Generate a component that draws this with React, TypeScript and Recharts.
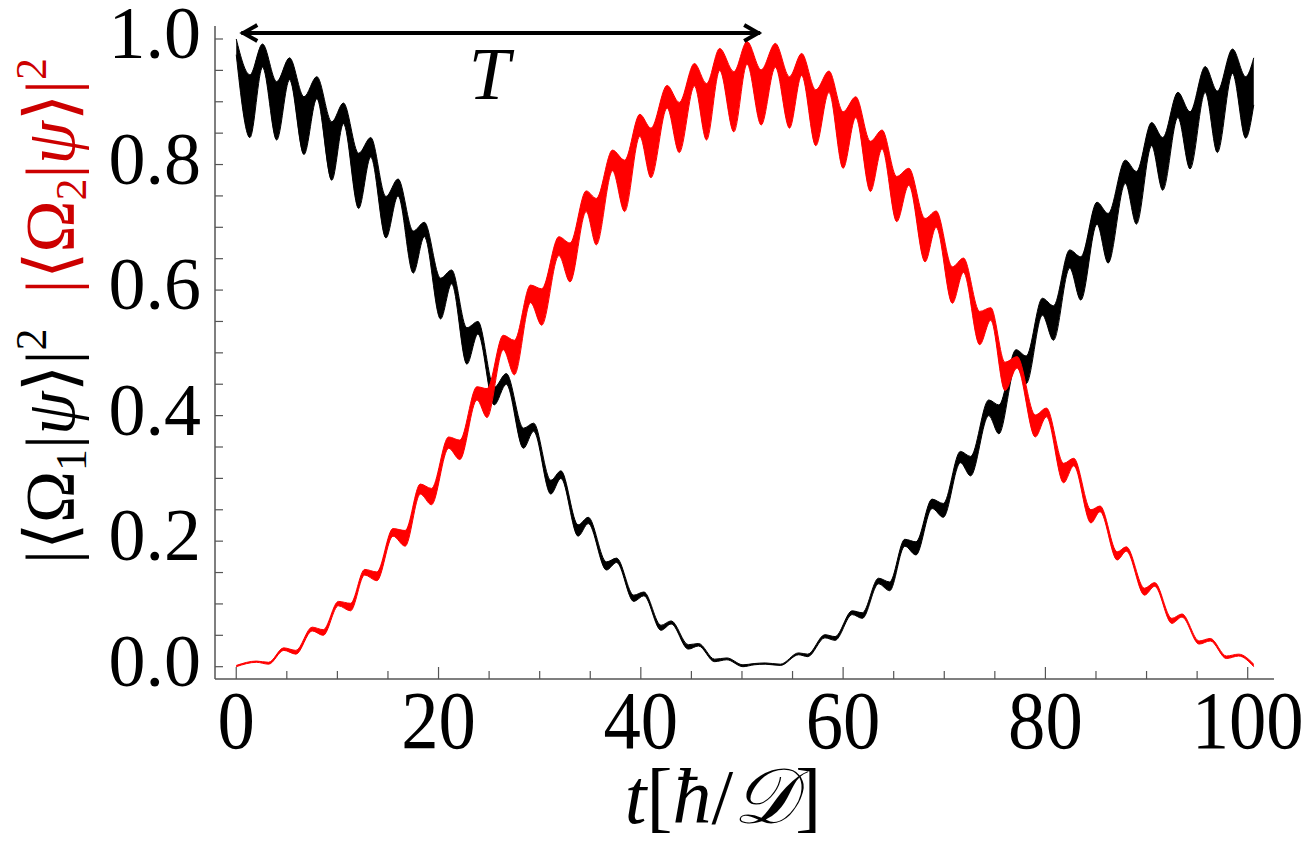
import { ComposedChart, Area, XAxis, YAxis, ReferenceLine } from 'recharts';

// |<Omega_1|psi>|^2 (black band): time, lower and upper edge of the fast oscillation
const blackT = [
  0, 1.35, 2.6, 4.0, 5.27, 6.7, 7.97, 9.45, 10.6, 12.1, 13.3, 14.8, 16.0, 17.5, 18.6, 20.2, 21.3,
  22.8, 23.9, 25.5, 26.7, 28.4, 29.4, 31.1, 32.1, 33.8, 34.8, 36.6, 37.6, 39.3, 40.3, 42.0, 43.0,
  44.7, 45.7, 47.3, 48.5, 50.1, 51.2, 52.3, 53.8, 55.6, 56.5, 58.2, 59.2, 60.9, 61.9, 63.5, 64.6,
  66.1, 67.2, 68.8, 69.9, 71.6, 72.6, 74.4, 75.4, 77.1, 78.1, 79.7, 80.8, 82.4, 83.5, 85.1, 86.2,
  87.9, 89.0, 90.5, 91.6, 93.1, 94.3, 95.8, 97.0, 98.5, 99.8, 100.6,
];
const blackHi = [
  1.0, 0.943, 0.992, 0.932, 0.97, 0.908, 0.94, 0.868, 0.898, 0.818, 0.843, 0.749, 0.777, 0.694, 0.708, 0.619, 0.632,
  0.54, 0.55, 0.445, 0.467, 0.38, 0.388, 0.297, 0.312, 0.226, 0.238, 0.167, 0.173, 0.114, 0.119, 0.066, 0.073,
  0.035, 0.037, 0.012, 0.014, 0.003, 0.005, 0.006, 0.004, 0.022, 0.02, 0.051, 0.048, 0.089, 0.086, 0.141, 0.135,
  0.203, 0.199, 0.267, 0.26, 0.343, 0.335, 0.425, 0.417, 0.505, 0.495, 0.587, 0.575, 0.664, 0.653, 0.74, 0.722,
  0.807, 0.789, 0.867, 0.843, 0.915, 0.884, 0.956, 0.917, 0.984, 0.94, 0.97,
];
const blackLo = [
  0.975, 0.843, 0.955, 0.839, 0.935, 0.816, 0.905, 0.775, 0.865, 0.73, 0.812, 0.683, 0.75, 0.627, 0.685, 0.554, 0.61,
  0.482, 0.53, 0.417, 0.45, 0.348, 0.375, 0.275, 0.3, 0.208, 0.228, 0.154, 0.166, 0.104, 0.113, 0.058, 0.068,
  0.028, 0.033, 0.008, 0.011, 0.0, 0.003, 0.004, 0.002, 0.019, 0.016, 0.046, 0.042, 0.083, 0.077, 0.132, 0.121,
  0.192, 0.178, 0.252, 0.238, 0.325, 0.304, 0.4, 0.371, 0.48, 0.451, 0.56, 0.52, 0.635, 0.584, 0.705, 0.643,
  0.77, 0.705, 0.83, 0.759, 0.875, 0.793, 0.915, 0.819, 0.945, 0.842, 0.895,
];

// |<Omega_2|psi>|^2 (red band)
const redT = [
  0, 2.0, 3.2, 4.7, 5.9, 7.5, 8.6, 10.1, 11.3, 12.7, 13.9, 15.5, 16.7, 18.2, 19.3, 21.0, 22.1,
  23.8, 24.8, 26.4, 27.5, 29.1, 30.2, 31.9, 33.0, 34.6, 35.6, 37.2, 38.4, 39.9, 41.0, 42.6, 43.8,
  45.3, 46.5, 47.8, 49.2, 50.5, 51.9, 53.3, 54.7, 55.9, 57.3, 58.6, 60.0, 61.25, 62.7, 63.85, 65.3,
  66.5, 68.1, 69.2, 70.8, 71.9, 73.5, 74.6, 76.0, 77.2, 79.0, 80.1, 81.8, 82.8, 84.5, 85.4, 87.1,
  88.0, 89.8, 90.8, 92.5, 93.5, 95.2, 96.3, 97.9, 99.1, 100.6,
];
const redHi = [
  0.002, 0.009, 0.007, 0.03, 0.026, 0.063, 0.059, 0.104, 0.101, 0.155, 0.151, 0.22, 0.217, 0.291, 0.284, 0.366, 0.361,
  0.446, 0.443, 0.528, 0.52, 0.608, 0.602, 0.685, 0.675, 0.758, 0.746, 0.823, 0.807, 0.88, 0.858, 0.926, 0.899,
  0.961, 0.929, 0.985, 0.948, 0.996, 0.951, 0.993, 0.94, 0.977, 0.919, 0.949, 0.884, 0.908, 0.837, 0.855, 0.781,
  0.794, 0.714, 0.726, 0.637, 0.651, 0.566, 0.572, 0.485, 0.494, 0.401, 0.412, 0.324, 0.332, 0.25, 0.256, 0.183,
  0.191, 0.125, 0.134, 0.077, 0.084, 0.041, 0.045, 0.017, 0.02, 0.004,
];
const redLo = [
  0.0, 0.007, 0.004, 0.026, 0.02, 0.057, 0.05, 0.097, 0.089, 0.146, 0.137, 0.208, 0.192, 0.275, 0.258, 0.348, 0.33,
  0.425, 0.397, 0.505, 0.465, 0.58, 0.544, 0.655, 0.613, 0.725, 0.672, 0.79, 0.725, 0.845, 0.779, 0.89, 0.819,
  0.925, 0.839, 0.95, 0.852, 0.96, 0.863, 0.955, 0.858, 0.942, 0.83, 0.915, 0.794, 0.875, 0.757, 0.825, 0.709,
  0.767, 0.645, 0.7, 0.579, 0.628, 0.513, 0.552, 0.44, 0.476, 0.366, 0.398, 0.293, 0.32, 0.229, 0.247, 0.17,
  0.184, 0.114, 0.128, 0.069, 0.079, 0.036, 0.041, 0.013, 0.017, 0.0,
];

const xTicks = [0, 5, 10, 15, 20, 25, 30, 35, 40, 45, 50, 55, 60, 65, 70, 75, 80, 85, 90, 95, 100];
const xLabels = [0, 20, 40, 60, 80, 100];
const yTicks = [
  0, 0.05, 0.1, 0.15, 0.2, 0.25, 0.3, 0.35, 0.4, 0.45, 0.5, 0.55, 0.6, 0.65, 0.7, 0.75, 0.8, 0.85, 0.9,
  0.95, 1.0,
];
const yLabels = [0, 0.2, 0.4, 0.6, 0.8, 1.0];

// period arrow: start and end time, height
const arrowT = [0.5, 51.8];
const arrowY = 1.0096;

const blackRows = blackT.map((t, i) => ({ t, band: [blackLo[i], blackHi[i]] }));
const redRows = redT.map((t, i) => ({ t, band: [redLo[i], redHi[i]] }));

const FRAME = '#555';
const RED = '#ff0000';
const LABEL_RED = '#cc0000';
const SERIF = '"Liberation Serif", "Times New Roman", serif';

const isLabel = (list: number[], v: number) => list.some((l) => Math.abs(l - v) < 1e-6);

const BottomTick = (props: any) => {
  const { x, y, payload } = props;
  const major = isLabel(xLabels, payload.value);
  return (
    <g>
      <line x1={x} y1={y} x2={x} y2={y - (major ? 12 : 8)} stroke={FRAME} strokeWidth={1.2} />
      {major && (
        <text
          transform={`translate(${x},${y + 69}) scale(0.9,1)`}
          textAnchor="middle"
          fontFamily={SERIF}
          fontSize={83}
          fill="#000"
        >
          {payload.value}
        </text>
      )}
    </g>
  );
};

const TopTick = (props: any) => {
  const { x, y, payload } = props;
  const major = isLabel(xLabels, payload.value);
  return <line x1={x} y1={y} x2={x} y2={y + (major ? 12 : 8)} stroke={FRAME} strokeWidth={1.2} />;
};

const LeftTick = (props: any) => {
  const { x, y, payload } = props;
  const major = isLabel(yLabels, payload.value);
  return (
    <g>
      <line x1={x} y1={y} x2={x + 8} y2={y} stroke={FRAME} strokeWidth={1.2} />
      {major && (
        <text x={x - 14} y={y + 19} textAnchor="end" fontFamily={SERIF} fontSize={74} fill="#000">
          {payload.value.toFixed(1)}
        </text>
      )}
    </g>
  );
};

const RightTick = (props: any) => {
  const { x, y } = props;
  return <line x1={x} y1={y} x2={x - 8} y2={y} stroke={FRAME} strokeWidth={1.2} />;
};

const ArrowShape = (props: any) => {
  const { x1, y1, x2, y2 } = props;
  return (
    <g>
      <line x1={x1} y1={y1} x2={x2} y2={y2} stroke="#000" strokeWidth={4} />
      <polyline points={`${x1 + 16},${y1 - 8} ${x1 + 2},${y1} ${x1 + 16},${y1 + 8}`} fill="none" stroke="#000" strokeWidth={4} />
      <polyline points={`${x2 - 16},${y2 - 8} ${x2 - 2},${y2} ${x2 - 16},${y2 + 8}`} fill="none" stroke="#000" strokeWidth={4} />
      <text x={x1 + 248} y={y1 + 66} textAnchor="middle" fontFamily={SERIF} fontStyle="italic" fontSize={74} fill="#000">
        T
      </text>
    </g>
  );
};

const AxisTitles = () => (
  <svg width={1308} height={846} style={{ position: 'absolute', left: 0, top: 0, pointerEvents: 'none' }}>
    <text transform="translate(74,311) rotate(-90)" textAnchor="middle" fontFamily={SERIF} fontSize={70}>
      <tspan fill="#000">|⟨Ω</tspan>
      <tspan fill="#000" fontSize={44} dy={12}>1</tspan>
      <tspan fill="#000" dy={-12}>|</tspan>
      <tspan fill="#000" fontStyle="italic">ψ</tspan>
      <tspan fill="#000">⟩|</tspan>
      <tspan fill="#000" fontSize={44} dy={-28}>2</tspan>
      <tspan fill={LABEL_RED} dy={28}>{'\u00a0\u00a0|⟨Ω'}</tspan>
      <tspan fill={LABEL_RED} fontSize={44} dy={12}>2</tspan>
      <tspan fill={LABEL_RED} dy={-12}>|</tspan>
      <tspan fill={LABEL_RED} fontStyle="italic">ψ</tspan>
      <tspan fill={LABEL_RED}>⟩|</tspan>
      <tspan fill={LABEL_RED} fontSize={44} dy={-28}>2</tspan>
    </text>
    <text x={723} y={823} textAnchor="middle" fontFamily={SERIF} fontSize={78} fill="#000">
      <tspan fontStyle="italic">t</tspan>
      <tspan>[</tspan>
      <tspan fontStyle="italic">ħ</tspan>
      <tspan>/</tspan>
      <tspan fontStyle="italic">𝒟</tspan>
      <tspan>]</tspan>
    </text>
  </svg>
);

export default function App() {
  return (
    <div style={{ position: 'absolute', left: 0, top: 0, width: 1308, height: 846, background: '#fff' }}>
      <ComposedChart width={1308} height={846} margin={{ top: 26, right: 34, bottom: 0, left: 0 }}>
        <XAxis
          xAxisId="main"
          type="number"
          dataKey="t"
          domain={[-2.1, 102.6]}
          ticks={xTicks}
          allowDataOverflow
          height={167}
          tickSize={0}
          tickMargin={0}
          tickLine={false}
          axisLine={{ stroke: FRAME, strokeWidth: 1.5 }}
          tick={<BottomTick />}
          interval={0}
        />
        <XAxis
          xAxisId="top"
          orientation="top"
          type="number"
          dataKey="t"
          domain={[-2.1, 102.6]}
          ticks={xTicks}
          allowDataOverflow
          height={0}
          tickSize={0}
          tickMargin={0}
          tickLine={false}
          axisLine={{ stroke: FRAME, strokeWidth: 1.5 }}
          tick={<TopTick />}
          interval={0}
        />
        <YAxis
          yAxisId="main"
          type="number"
          domain={[-0.0196, 1.0207]}
          ticks={yTicks}
          allowDataOverflow
          width={215}
          tickSize={0}
          tickMargin={0}
          tickLine={false}
          axisLine={{ stroke: FRAME, strokeWidth: 1.5 }}
          tick={<LeftTick />}
          interval={0}
        />
        <YAxis
          yAxisId="right"
          orientation="right"
          type="number"
          domain={[-0.0196, 1.0207]}
          ticks={yTicks}
          allowDataOverflow
          width={0}
          tickSize={0}
          tickMargin={0}
          tickLine={false}
          axisLine={{ stroke: FRAME, strokeWidth: 1.5 }}
          tick={<RightTick />}
          interval={0}
        />
        <Area
          xAxisId="main"
          yAxisId="main"
          data={blackRows}
          dataKey="band"
          type="monotone"
          stroke="#000"
          strokeWidth={1}
          fill="#000"
          fillOpacity={1}
          dot={false}
          activeDot={false}
          isAnimationActive={false}
        />
        <Area
          xAxisId="main"
          yAxisId="main"
          data={redRows}
          dataKey="band"
          type="monotone"
          stroke={RED}
          strokeWidth={1}
          fill={RED}
          fillOpacity={1}
          dot={false}
          activeDot={false}
          isAnimationActive={false}
        />
        <ReferenceLine
          xAxisId="main"
          yAxisId="main"
          segment={[
            { x: arrowT[0], y: arrowY },
            { x: arrowT[1], y: arrowY },
          ]}
          ifOverflow="visible"
          shape={ArrowShape}
        />
      </ComposedChart>
      <AxisTitles />
    </div>
  );
}
